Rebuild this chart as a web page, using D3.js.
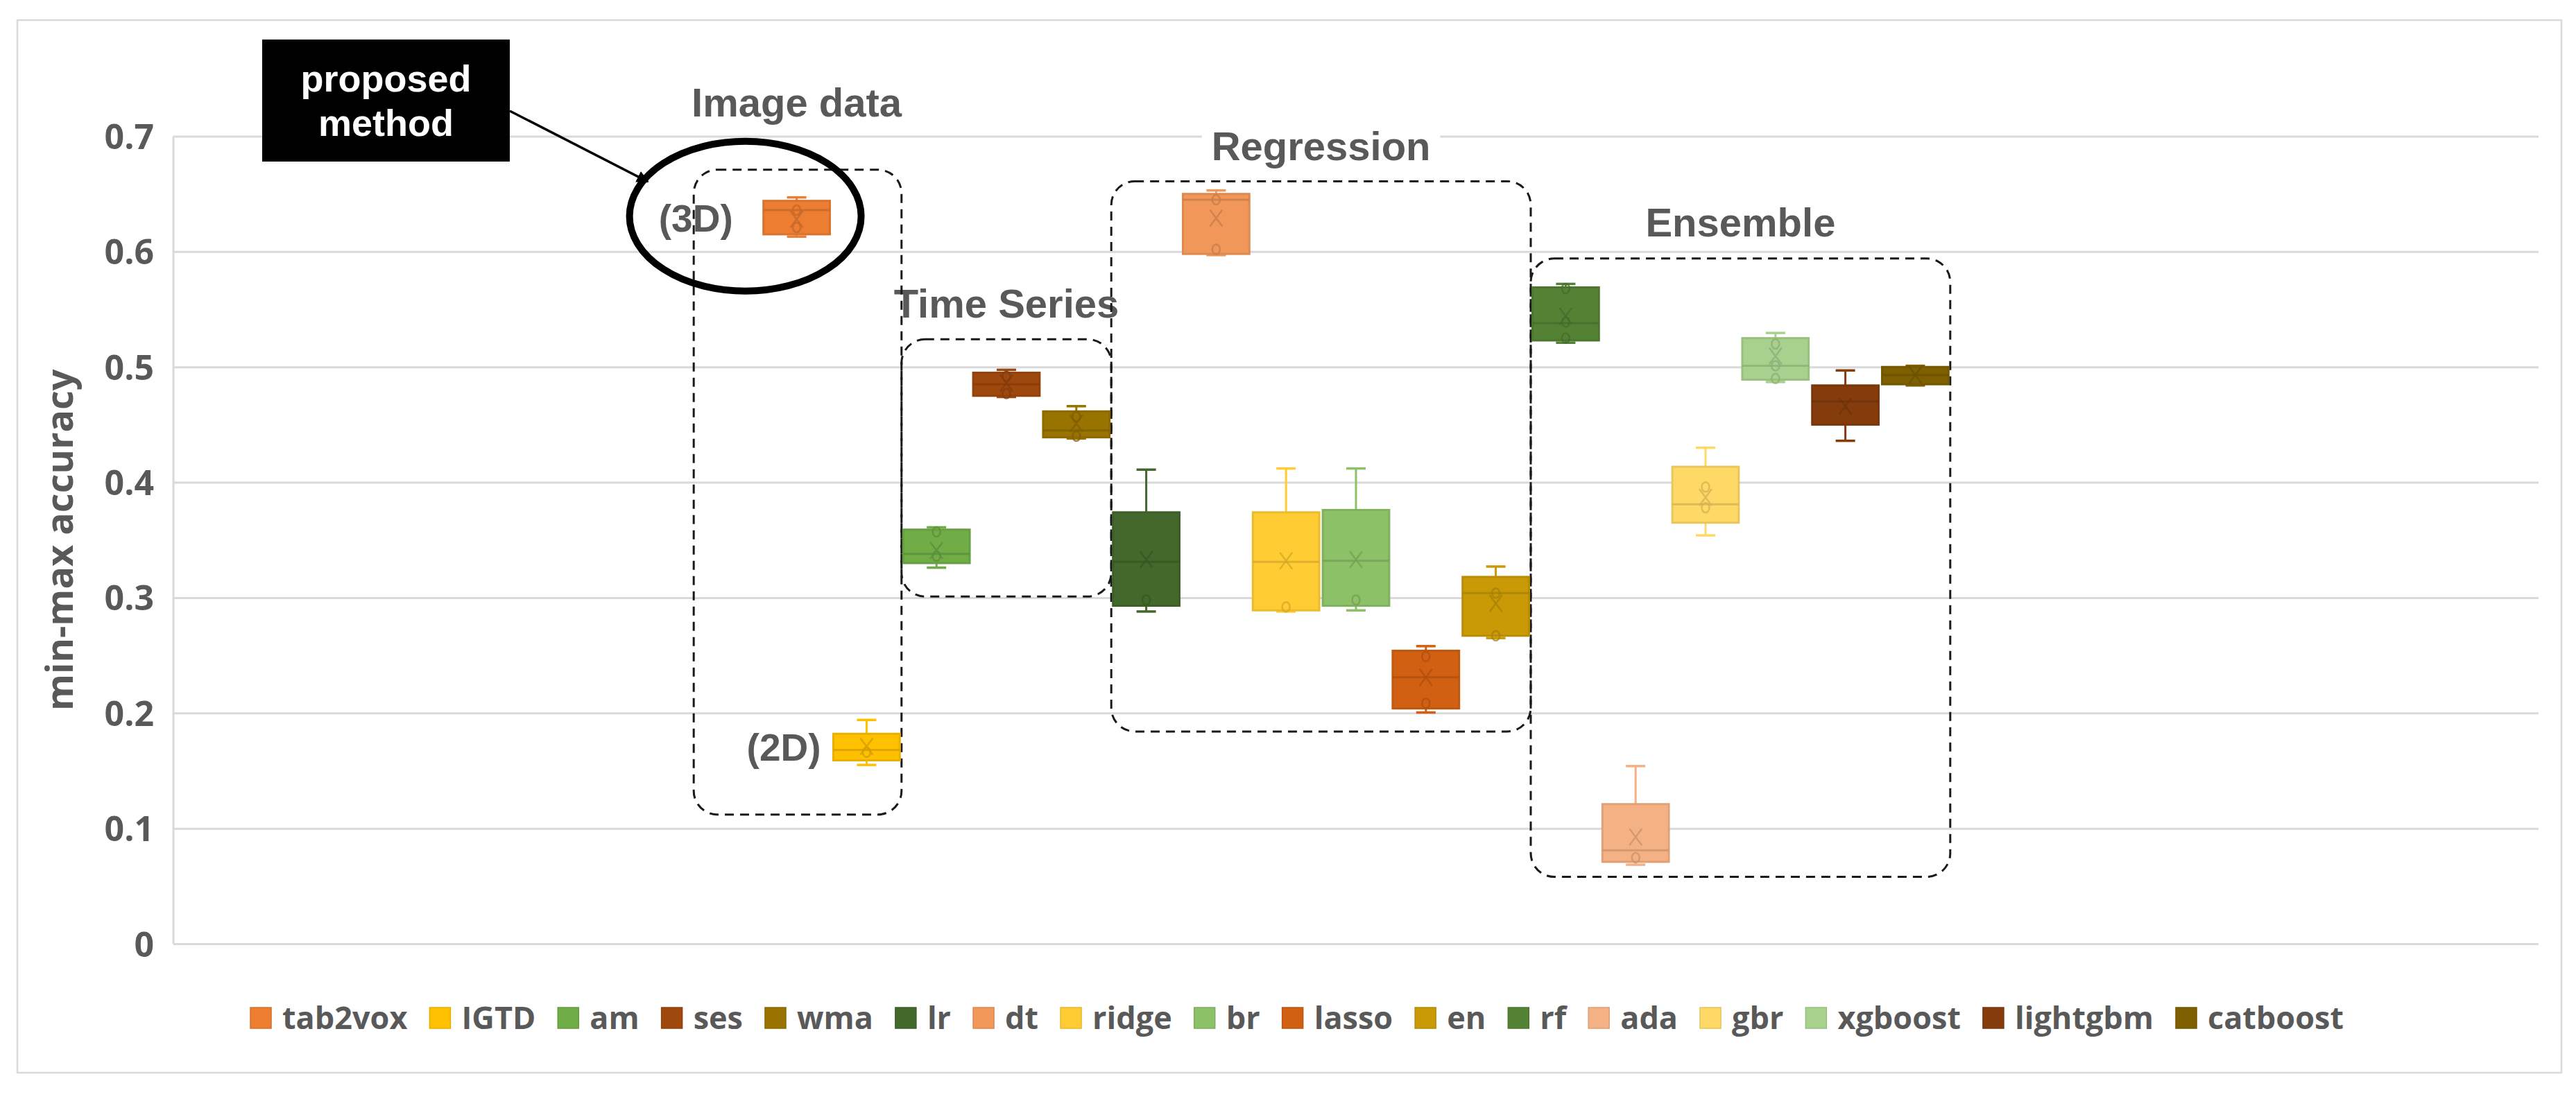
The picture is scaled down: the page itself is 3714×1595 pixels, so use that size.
<!DOCTYPE html>
<html>
<head>
<meta charset="utf-8">
<script src="https://cdn.jsdelivr.net/npm/d3@7"></script>
<style>
  html, body { margin: 0; padding: 0; background: #ffffff; }
  svg { display: block; }
</style>
</head>
<body>
<svg id="chart" width="3714" height="1595"></svg>
<script>
// ---------------- DATA ----------------
const series   = ["tab2vox","IGTD","am","ses","wma","lr","dt","ridge","br","lasso","en","rf","ada","gbr","xgboost","lightgbm","catboost"];
const colors   = ["#ED7D31","#FFC000","#70AD47","#9E480E","#997300","#43682B","#F1975A","#FFCD33","#8CC168","#D26012","#C99A06","#548235","#F4B183","#FFD966","#A9D18E","#843C0C","#7F6000"];
const mins     = [0.613,0.155,0.326,0.474,0.438,0.288,0.597,0.288,0.289,0.2005,0.265,0.521,0.0685,0.354,0.487,0.436,0.484];
const q1s      = [0.615,0.159,0.330,0.475,0.439,0.293,0.598,0.289,0.293,0.204,0.267,0.523,0.071,0.365,0.489,0.450,0.485];
const medians  = [0.636,0.168,0.338,0.485,0.445,0.331,0.645,0.331,0.332,0.231,0.304,0.538,0.081,0.381,0.501,0.470,0.493];
const q3s      = [0.644,0.182,0.359,0.495,0.4615,0.374,0.650,0.374,0.376,0.254,0.318,0.569,0.121,0.4135,0.525,0.484,0.500];
const maxs     = [0.647,0.194,0.361,0.4975,0.466,0.411,0.653,0.412,0.412,0.258,0.327,0.572,0.154,0.430,0.5295,0.497,0.501];
const means    = [0.628,0.171,0.341,0.486,0.451,0.333,0.629,0.332,0.333,0.231,0.295,0.544,0.0925,0.387,0.5095,0.466,0.493];
const points   = [[0.636,0.621],[0.166],[0.357,0.336],[0.492,0.477],[0.457,0.440],[0.298],[0.645,0.602],[0.292],[0.298],[0.249,0.2085],[0.304,0.267],[0.568,0.539,0.525],[0.0747],[0.396,0.378],[0.520,0.501,0.490],[],[]];
const yTicks   = [0,0.1,0.2,0.3,0.4,0.5,0.6,0.7];
const yTickLabels = ["0","0.1","0.2","0.3","0.4","0.5","0.6","0.7"];
const yTitle   = "min-max accuracy";
// group annotations: first/last series, value extent, label anchor
const groupNames  = ["Image data","Time Series","Regression","Ensemble"];
const groupFirst  = ["tab2vox","am","lr","rf"];
const groupLast   = ["IGTD","wma","en","catboost"];
const groupTop    = [0.671,0.524,0.661,0.594];
const groupBottom = [0.112,0.301,0.184,0.058];
const groupLabelY = [0.717,0.543,0.679,0.613];
const groupLabelBg = [false,false,true,true];
const sideLabels  = ["(3D)","(2D)"];
const sideLabelSeries = ["tab2vox","IGTD"];
const calloutText = ["proposed","method"];

// ---------------- LAYOUT ----------------
const svg = d3.select("#chart");
const plot = {left: 250, right: 3660, top: 196.5, bottom: 1361};
const grey = "#595959";

const y = d3.scaleLinear().domain([0, 0.7]).range([plot.bottom, plot.top]);
const plotCenter = (plot.left + plot.right) / 2;
const step = 100.8;
const x = d3.scaleBand()
  .domain(series)
  .range([plotCenter - step * series.length / 2, plotCenter + step * series.length / 2])
  .paddingInner(0.05).paddingOuter(0.025);
const bandStart = s => x(s) - x.step() * x.paddingInner() / 2;
const bandEnd   = s => x(s) + x.bandwidth() + x.step() * x.paddingInner() / 2;
const center    = s => x(s) + x.bandwidth() / 2;

// outer chart frame
svg.append("rect").attr("x", 25).attr("y", 29).attr("width", 3668).attr("height", 1518)
  .attr("fill", "#ffffff").attr("stroke", "#d9d9d9").attr("stroke-width", 2.5);

// gridlines via axis
const yAxis = d3.axisLeft(y).tickValues(yTicks).tickSize(-(plot.right - plot.left)).tickFormat((d, i) => yTickLabels[i]).tickPadding(28);
const gAxis = svg.append("g").attr("transform", `translate(${plot.left},0)`).call(yAxis);
gAxis.select(".domain").remove();
gAxis.selectAll(".tick line").attr("stroke", "#d9d9d9").attr("stroke-width", 3);
gAxis.selectAll(".tick text")
  .attr("fill", grey).attr("font-family", "'Open Sans', sans-serif").attr("font-weight", 700)
  .attr("font-size", 50).attr("dy", "0.36em");
svg.append("line").attr("x1", plot.left).attr("x2", plot.left).attr("y1", plot.top).attr("y2", plot.bottom)
  .attr("stroke", "#d9d9d9").attr("stroke-width", 3);

// y title
svg.append("text")
  .attr("transform", `translate(105,${(y(0.1) + y(0.6)) / 2}) rotate(-90)`)
  .attr("text-anchor", "middle")
  .attr("fill", grey).attr("font-family", "'Open Sans', sans-serif").attr("font-weight", 700)
  .attr("font-size", 54).text(yTitle);

// group labels (with white backing where they cross gridlines)
const labelFont = "'Liberation Sans', Arial, Helvetica, sans-serif";
const gLabels = svg.append("g");
const labelCx = [center("tab2vox"), center("ses"), bandEnd("ridge"), bandEnd("gbr")];
groupNames.forEach((name, i) => {
  const t = gLabels.append("text").attr("x", labelCx[i]).attr("y", y(groupLabelY[i]))
    .attr("text-anchor", "middle").attr("fill", grey)
    .attr("font-family", labelFont).attr("font-weight", 700).attr("font-size", 58).text(name);
  if (groupLabelBg[i]) {
    const bb = t.node().getBBox();
    gLabels.insert("rect", "text").attr("x", bb.x - 14).attr("y", bb.y - 4).attr("width", bb.width + 28).attr("height", bb.height + 8)
      .attr("fill", "#ffffff");
  }
});

// dashed group boxes
const gGroups = svg.append("g");
groupNames.forEach((name, i) => {
  let x0 = bandStart(groupFirst[i]);
  if (i === 0) x0 = x0 - 98;
  const x1 = bandEnd(groupLast[i]);
  gGroups.append("rect")
    .attr("x", x0).attr("y", y(groupTop[i]))
    .attr("width", x1 - x0).attr("height", y(groupBottom[i]) - y(groupTop[i]))
    .attr("rx", 34).attr("ry", 34)
    .attr("fill", "none").attr("stroke", "#1a1a1a").attr("stroke-width", 3)
    .attr("stroke-dasharray", "13,9");
});

// ---------------- BOXES ----------------
const gBoxes = svg.append("g");
series.forEach((s, i) => {
  const c = d3.color(colors[i]);
  const dark = c.darker(0.55).formatHex();
  const bx = x(s), bw = x.bandwidth(), cx = center(s);
  const g = gBoxes.append("g");
  g.append("line").attr("x1", cx).attr("x2", cx).attr("y1", y(maxs[i])).attr("y2", y(q3s[i]))
    .attr("stroke", colors[i]).attr("stroke-width", 3);
  g.append("line").attr("x1", cx).attr("x2", cx).attr("y1", y(q1s[i])).attr("y2", y(mins[i]))
    .attr("stroke", colors[i]).attr("stroke-width", 3);
  [maxs[i], mins[i]].forEach(v => {
    g.append("line").attr("x1", cx - 14).attr("x2", cx + 14).attr("y1", y(v)).attr("y2", y(v))
      .attr("stroke", colors[i]).attr("stroke-width", 3.5);
  });
  g.append("rect").attr("x", bx).attr("y", y(q3s[i])).attr("width", bw).attr("height", y(q1s[i]) - y(q3s[i]))
    .attr("fill", colors[i]).attr("stroke", c.darker(0.25).formatHex()).attr("stroke-width", 3);
  g.append("line").attr("x1", bx).attr("x2", bx + bw).attr("y1", y(medians[i])).attr("y2", y(medians[i]))
    .attr("stroke", dark).attr("stroke-width", 3).attr("stroke-opacity", 0.75);
  points[i].forEach(v => {
    g.append("ellipse").attr("cx", cx).attr("cy", y(v)).attr("rx", 5.5).attr("ry", 7)
      .attr("fill", "none").attr("stroke", dark).attr("stroke-width", 2.5).attr("stroke-opacity", 0.75);
  });
  const m = y(means[i]), hw = 9, hh = 12;
  g.append("path").attr("d", `M${cx - hw},${m - hh}L${cx + hw},${m + hh}M${cx + hw},${m - hh}L${cx - hw},${m + hh}`)
    .attr("stroke", dark).attr("stroke-width", 2.5).attr("stroke-opacity", 0.75).attr("fill", "none");
});

// side labels (3D)/(2D)
const sideGap = [44, 18];
sideLabels.forEach((t, i) => {
  const s = sideLabelSeries[i], k = series.indexOf(s);
  svg.append("text").attr("x", x(s) - sideGap[i]).attr("y", y((q1s[k] + q3s[k]) / 2))
    .attr("dy", "0.36em").attr("text-anchor", "end").attr("fill", grey)
    .attr("font-family", labelFont).attr("font-weight", 700).attr("font-size", 55).text(t);
});

// ---------------- CALLOUT ----------------
const iT = series.indexOf("tab2vox");
const ellCx = center("tab2vox") - 74, ellCy = y((q1s[iT] + q3s[iT]) / 2) - 2;
svg.append("ellipse").attr("cx", ellCx).attr("cy", ellCy).attr("rx", 167).attr("ry", 108)
  .attr("fill", "none").attr("stroke", "#000").attr("stroke-width", 10);

svg.append("defs").append("marker").attr("id", "arrow").attr("viewBox", "0 0 10 10")
  .attr("refX", 9).attr("refY", 5).attr("markerWidth", 5).attr("markerHeight", 5).attr("orient", "auto")
  .append("path").attr("d", "M0,0L10,5L0,10z").attr("fill", "#000");

const boxX0 = 378, boxX1 = 735, boxY0 = 57, boxY1 = 233;
svg.append("line").attr("x1", boxX1).attr("y1", 160).attr("x2", 934).attr("y2", 262)
  .attr("stroke", "#000").attr("stroke-width", 3.5).attr("marker-end", "url(#arrow)");
svg.append("rect").attr("x", boxX0).attr("y", boxY0).attr("width", boxX1 - boxX0).attr("height", boxY1 - boxY0).attr("fill", "#000");
calloutText.forEach((t, i) => {
  svg.append("text").attr("x", (boxX0 + boxX1) / 2).attr("y", 132 + i * 64)
    .attr("text-anchor", "middle").attr("fill", "#fff")
    .attr("font-family", labelFont).attr("font-weight", 700).attr("font-size", 54).text(t);
});

// ---------------- LEGEND ----------------
const legend = svg.append("g");
const legY = 1468, sw = 30, gapText = 16, gapItem = 32;
const items = [];
series.forEach((s, i) => {
  const it = legend.append("g");
  it.append("rect").attr("x", 0).attr("y", -sw / 2).attr("width", sw).attr("height", sw)
    .attr("fill", colors[i]).attr("stroke", d3.color(colors[i]).darker(0.3).formatHex()).attr("stroke-width", 1.5);
  const tx = it.append("text").attr("x", sw + gapText).attr("y", 0).attr("dy", "0.36em")
    .attr("fill", grey).attr("font-family", "'Open Sans', sans-serif").attr("font-weight", 700)
    .attr("font-size", 45).text(s);
  items.push({g: it, w: sw + gapText + tx.node().getComputedTextLength()});
});
const totalW = d3.sum(items, d => d.w) + gapItem * (items.length - 1);
let lx = 1870 - totalW / 2;
items.forEach(d => { d.g.attr("transform", `translate(${lx},${legY})`); lx += d.w + gapItem; });
</script>
</body>
</html>
